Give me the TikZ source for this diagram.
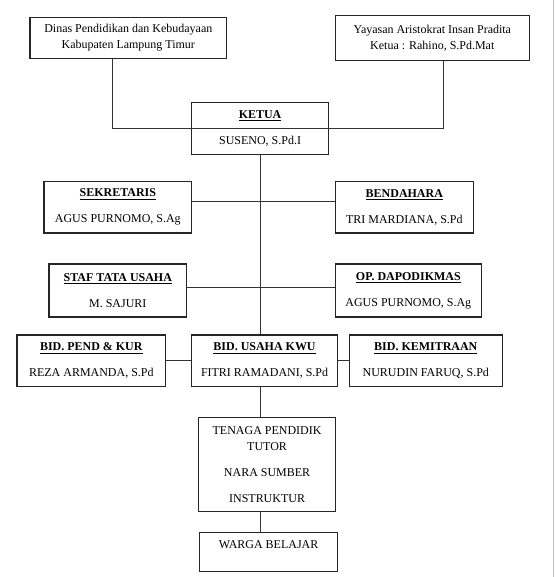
\documentclass[tikz,border=0pt]{standalone}
\usepackage{fontspec}
\setmainfont{Liberation Serif}
\usepackage{tikz}

\begin{document}
\begin{tikzpicture}[x=0.75pt,y=0.75pt,yscale=-1,xscale=1,
  kotak/.style={draw=black!85,line width=0.9pt,rectangle,inner sep=0pt,align=center,
    font=\fontsize{9}{12}\selectfont},
  garis/.style={draw=black!80,line width=0.7pt}]
%set diagram left start at 0, and has height of 577
\path (0,0) rectangle (555,577);

%Shape: Rectangle
\node[kotak,minimum width=197*0.75pt,minimum height=41*0.75pt] (dinas) at (128.5,37.5) {Dinas Pendidikan dan Kebudayaan\\Kabupaten Lampung Timur};
%Shape: Rectangle
\node[kotak,minimum width=194*0.75pt,minimum height=45*0.75pt] (yayasan) at (433,37.5) {Yayasan Aristokrat Insan Pradita\\Ketua : Rahino, S.Pd.Mat};
%Shape: Rectangle
\node[kotak,minimum width=137*0.75pt,minimum height=52*0.75pt] (ketua) at (260.5,128) {\underline{\textbf{KETUA}}\\[7.5pt]SUSENO, S.Pd.I};

%Shape: Rectangle
\node[kotak,minimum width=148*0.75pt,minimum height=52*0.75pt] (sekretaris) at (118,207) {\underline{\textbf{SEKRETARIS}}\\[7.5pt]AGUS PURNOMO, S.Ag};
%Shape: Rectangle
\node[kotak,minimum width=138*0.75pt,minimum height=52*0.75pt] (bendahara) at (405,207) {\underline{\textbf{BENDAHARA}}\\[7.5pt]TRI MARDIANA, S.Pd};
%Shape: Rectangle
\node[kotak,minimum width=138*0.75pt,minimum height=53*0.75pt] (staf) at (118,290.5) {\underline{\textbf{STAF TATA USAHA}}\\[7.5pt]M. SAJURI};
%Shape: Rectangle
\node[kotak,minimum width=146*0.75pt,minimum height=53*0.75pt] (dapodik) at (409,290.5) {\underline{\textbf{OP. DAPODIKMAS}}\\[7.5pt]AGUS PURNOMO, S.Ag};

%Shape: Rectangle
\node[kotak,minimum width=149*0.75pt,minimum height=52*0.75pt] (pendkur) at (91.5,361) {\underline{\textbf{BID. PEND \& KUR}}\\[7.5pt]REZA ARMANDA, S.Pd};
%Shape: Rectangle
\node[kotak,minimum width=146*0.75pt,minimum height=52*0.75pt] (usaha) at (265,361) {\underline{\textbf{BID. USAHA KWU}}\\[7.5pt]FITRI RAMADANI, S.Pd};
%Shape: Rectangle
\node[kotak,minimum width=153*0.75pt,minimum height=52*0.75pt] (mitra) at (426.5,361) {\underline{\textbf{BID. KEMITRAAN}}\\[7.5pt]NURUDIN FARUQ, S.Pd};

%Shape: Rectangle
\node[kotak,minimum width=137*0.75pt,minimum height=94*0.75pt] (tenaga) at (267.5,465) {TENAGA PENDIDIK\\TUTOR\\[7.5pt]NARA SUMBER\\[7.5pt]INSTRUKTUR};
%Shape: Rectangle
\node[kotak,minimum width=138*0.75pt,minimum height=39*0.75pt] (warga) at (269,552.5) {WARGA BELAJAR\\\mbox{}};

%Straight Lines
\coordinate (tdinas) at (113,128);
\coordinate (tyayasan) at (444,128);
\draw[garis] (dinas.south -| tdinas) -- (tdinas) -- (tyayasan) -- (yayasan.south -| tyayasan);
%Straight Lines
\draw[garis] (ketua.south) -- (usaha.north -| ketua.south);
%Straight Lines
\draw[garis] ([yshift=-4.5pt]sekretaris.east) -- ([yshift=-4.5pt]bendahara.west);
%Straight Lines
\draw[garis] ([yshift=-2.6pt]staf.east) -- ([yshift=-2.6pt]dapodik.west);
%Straight Lines
\draw[garis] (pendkur.east) -- (usaha.west);
\draw[garis] (usaha.east) -- (mitra.west);
%Straight Lines
\draw[garis] (usaha.south -| ketua.south) -- (tenaga.north -| ketua.south);
\draw[garis] (tenaga.south -| ketua.south) -- (warga.north -| ketua.south);

%page edge
\draw[black!25,line width=0.7pt] (554,0) -- (554,577);

\end{tikzpicture}
\end{document}
